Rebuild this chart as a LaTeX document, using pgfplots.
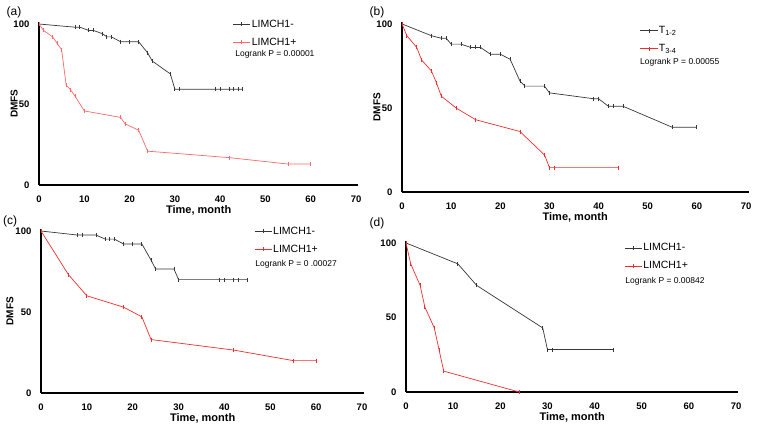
\documentclass[border=0pt]{standalone}
\usepackage{fontspec}
\setmainfont{Liberation Sans}
\usepackage{pgfplots}
\pgfplotsset{compat=1.18}
\definecolor{kmgray}{RGB}{55,55,55}
\definecolor{kmred}{RGB}{240,45,45}
\definecolor{kmpink}{RGB}{255,105,105}
\pgfplotsset{
  km/.style={
    scale only axis,
    axis lines=left,
    axis line style={-, line width=1.5pt, black},
    xmin=0, xmax=70.5, ymin=0, ymax=101,
    enlargelimits=false,
    clip=false,
    xtick={0,10,...,70}, ytick={0,50,100},
    tick style={draw=none},
    /pgf/number format/assume math mode=true,
    tick label style={font=\bfseries\fontsize{9.5}{10}\selectfont},
    xticklabel style={anchor=center, yshift=-12.5pt},
    yticklabel style={anchor=east, xshift=-4pt},
    xlabel={Time, month},
    xlabel style={at={(axis description cs:0.5,0)}, anchor=center, yshift=-25pt, font=\bfseries\fontsize{11}{11}\selectfont},
    ylabel style={anchor=center, font=\bfseries\fontsize{10}{11}\selectfont},
    legend cell align=left,
    legend style={draw=none, fill=none, anchor=north west, inner sep=0pt,
      font=\fontsize{10.5}{11}\selectfont,
      nodes={inner sep=1pt, text height=7.5pt, text depth=2pt},
      row sep=6.5pt},
  },
  gline/.style={color=kmgray, line width=0.7pt, mark=|, mark size=2pt, mark options={line width=0.9pt}},
  rline/.style={color=kmred, line width=0.7pt, mark=|, mark size=2pt, mark options={line width=0.9pt}},
  pline/.style={color=kmpink, line width=0.7pt, mark=|, mark size=2pt, mark options={line width=0.9pt}},
}
\newcommand{\lr}[1]{\fontsize{8.5}{9}\selectfont Logrank P = #1}
\begin{document}
\begin{tikzpicture}
\useasboundingbox (0,0) rectangle (758pt,433pt);
\node[font=\fontsize{12}{13}\selectfont] at (14pt,421pt) {(a)};
\node[font=\fontsize{12}{13}\selectfont] at (377pt,421pt) {(b)};
\node[font=\fontsize{12}{13}\selectfont] at (10pt,212pt) {(c)};
\node[font=\fontsize{12}{13}\selectfont] at (377pt,210pt) {(d)};

% (a)
\begin{axis}[km, at={(39pt,248pt)}, anchor=south west, width=319.3pt, height=162.6pt,
  ylabel={DMFS}, ylabel style={at={(axis description cs:-0.078,0.5)}},
  legend style={at={(axis cs:42.8,103.5)}}]
\addplot[gline] coordinates {(0,100)(8,98)(9,98)(11,96)(12,96)(14,94)(15,92)(16,92)(18,89)(20,89)(22,89)(24,82)(25,77)(29,69)(30,59.5)(31,59.5)(39,59.5)(40,59.5)(42,59.5)(43,59.5)(44,59.5)(45,59.5)};
\addlegendentry{LIMCH1-}
\addplot[pline] coordinates {(0,100)(1,96)(3,92)(4,88)(5,84)(6,62)(7,59)(8,55)(10,46)(18,42)(19,38)(22,34)(24,21)(42,17)(55,13)(60,13)};
\addlegendentry{LIMCH1+}
\node[anchor=west, inner sep=0pt] at (axis cs:43.3,81.4) {\lr{0.00001}};
\end{axis}

% (b)
\begin{axis}[km, at={(402pt,241pt)}, anchor=south west, width=346.5pt, height=169.7pt,
  ylabel={DMFS}, ylabel style={at={(axis description cs:-0.072,0.5)}},
  legend style={at={(axis cs:48.4,99.5)}}]
\addplot[gline] coordinates {(0,100)(6,93)(8,91.5)(9,91.5)(10,88)(12,88)(14,86)(15,86)(16,86)(18,82)(20,82)(22,79)(24,66)(25,63)(29,63)(30,59)(39,55.5)(40,55.5)(42,51)(43,51)(45,51)(55,38.5)(60,38.5)};
\addlegendentry{T\textsubscript{1-2}}
\addplot[rline] coordinates {(0,100)(1,93)(3,86)(4,78.5)(6,72)(7,65)(8,57)(11,50)(15,43)(24,36)(29,22)(30,14.5)(31,14.5)(44,14.5)};
\addlegendentry{T\textsubscript{3-4}}
\node[anchor=west, inner sep=0pt] at (axis cs:48.4,77.4) {\lr{0.00055}};
\end{axis}

% (c)
\begin{axis}[km, at={(41pt,40pt)}, anchor=south west, width=323.3pt, height=163.6pt,
  ylabel={DMFS}, ylabel style={at={(axis description cs:-0.096,0.5)}},
  legend style={at={(axis cs:46.5,103.5)}}]
\addplot[gline] coordinates {(0,100)(8,97.5)(9,97.5)(12,97.5)(14,95)(15,95)(16,95)(18,92)(20,92)(22,92)(24,82)(25,76.5)(29,76.5)(30,70)(39,70)(40,70)(42,70)(43,70)(45,70)};
\addlegendentry{LIMCH1-}
\addplot[rline] coordinates {(0,100)(6,73)(10,60)(18,53)(22,47)(24,33)(42,26.5)(55,20)(60,20)};
\addlegendentry{LIMCH1+}
\node[anchor=west, inner sep=0pt] at (axis cs:46.7,79.6) {\lr{0 .00027}};
\end{axis}

% (d)
\begin{axis}[km, at={(406pt,41pt)}, anchor=south west, width=332.4pt, height=150.5pt,
  legend style={at={(axis cs:46.3,100.5)}}]
\addplot[gline] coordinates {(0,100)(11,86)(15,71.5)(29,43)(30,28.5)(31,28.5)(44,28.5)};
\addlegendentry{LIMCH1-}
\addplot[rline] coordinates {(0,100)(1,86)(3,71.5)(4,57)(6,43)(7,28.5)(8,14)(24,0)};
\addlegendentry{LIMCH1+}
\node[anchor=west, inner sep=0pt] at (axis cs:46.5,74.5) {\lr{0.00842}};
\end{axis}
\end{tikzpicture}
\end{document}
